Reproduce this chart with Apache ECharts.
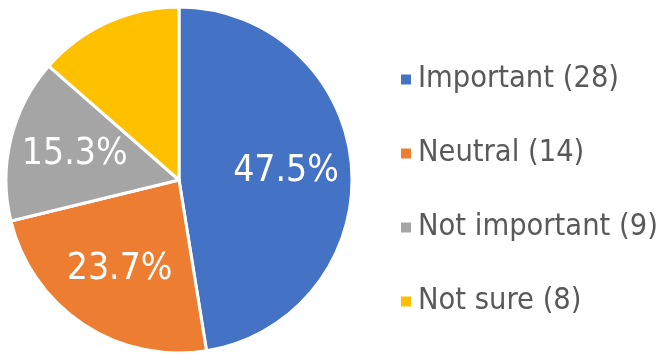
<!DOCTYPE html>
<html>
<head>
<meta charset="utf-8">
<style>
  html, body { margin: 0; padding: 0; background: #ffffff; }
  #chart { width: 665px; height: 354px; }
</style>
<script src="https://cdn.jsdelivr.net/npm/echarts@6/dist/echarts.min.js"></script>
</head>
<body>
<div id="chart"></div>
<script>
// Survey responses
const categories = ['Important', 'Neutral', 'Not important', 'Not sure'];
const counts = [28, 14, 9, 8];
const colors = ['#4472C4', '#ED7D31', '#A5A5A5', '#FFC000'];
// Percentage labels are shown on every slice except the smallest one
const showLabel = [true, true, true, false];

const FONT = "'DejaVu Sans Condensed', 'DejaVu Sans', sans-serif";
const CENTER = [179, 180];
const total = counts.reduce((a, b) => a + b, 0);

const chart = echarts.init(document.getElementById('chart'), null, { renderer: 'canvas' });

const legendNames = categories.map((c, i) => c + ' (' + counts[i] + ')');

chart.setOption({
  animation: false,
  backgroundColor: '#ffffff',
  color: colors,
  legend: {
    orient: 'vertical',
    left: 394,
    top: 59,
    itemWidth: 12,
    itemHeight: 12,
    itemGap: 43,
    icon: 'rect',
    data: legendNames,
    textStyle: {
      fontFamily: FONT,
      fontSize: 30.5,
      color: '#595959',
      lineHeight: 30,
      padding: [0, 0, 0, 1]
    }
  },
  series: [{
    type: 'pie',
    center: CENTER,
    radius: 173,
    startAngle: 90,
    clockwise: true,
    avoidLabelOverlap: false,
    itemStyle: { borderColor: '#ffffff', borderWidth: 3 },
    emphasis: { disabled: true },
    label: {
      position: 'inside',
      color: '#ffffff',
      fontFamily: FONT,
      fontSize: 37,
      formatter: p => (p.value / total * 100).toFixed(1) + '%'
    },
    labelLine: { show: false },
    // push the inside labels a little further out from the centre
    labelLayout: function (params) {
      const r = params.labelRect;
      const cx = r.x + r.width / 2;
      const cy = r.y + r.height / 2;
      const k = 0.2;
      return { dx: (cx - CENTER[0]) * k, dy: (cy - CENTER[1]) * k };
    },
    data: categories.map((c, i) => ({
      name: legendNames[i],
      value: counts[i],
      label: { show: showLabel[i] }
    }))
  }]
});
</script>
</body>
</html>
